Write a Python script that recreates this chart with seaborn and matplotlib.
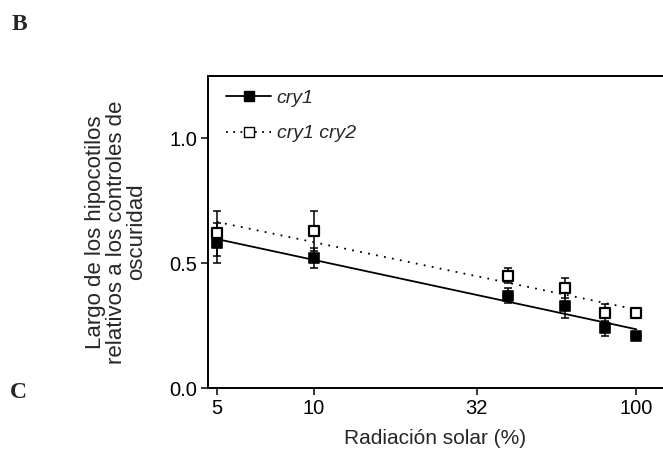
import numpy as np
import pandas as pd
import matplotlib
matplotlib.use("Agg")
import matplotlib.pyplot as plt
from matplotlib.lines import Line2D
import seaborn as sns

# ---- data ----
radiation = [5, 10, 40, 60, 80, 100]
cry1_mean = [0.58, 0.52, 0.37, 0.33, 0.24, 0.21]
cry1_err = [0.08, 0.04, 0.03, 0.05, 0.03, 0.015]
cry12_mean = [0.62, 0.63, 0.45, 0.40, 0.30, 0.30]
cry12_err = [0.09, 0.08, 0.03, 0.04, 0.035, 0.02]
x_ticks = [5, 10, 32, 100]
x_ticklabels = ["5", "10", "32", "100"]
y_ticks = [0.0, 0.5, 1.0]
y_ticklabels = ["0.0", "0.5", "1.0"]
series_names = ["cry1", "cry1 cry2"]

sns.set_style("ticks")
plt.rcParams["font.family"] = ["Liberation Sans", "DejaVu Sans"]

fig = plt.figure(figsize=(6.63, 4.55), dpi=100)
ax = fig.add_axes([208 / 663, 67 / 455, 455 / 663, 312 / 455])

df1 = pd.DataFrame({"x": radiation, "y": cry1_mean})
df2 = pd.DataFrame({"x": radiation, "y": cry12_mean})

# regression lines (y ~ log x)
sns.regplot(data=df1, x="x", y="y", logx=True, ci=None, scatter=False, ax=ax,
            line_kws=dict(color="black", lw=1.3, ls="-"))
sns.regplot(data=df2, x="x", y="y", logx=True, ci=None, scatter=False, ax=ax,
            line_kws=dict(color="black", lw=1.3, ls=(0, (1, 3.5))))

# error bars + markers
ax.errorbar(radiation, cry1_mean, yerr=cry1_err, fmt="none", ecolor="black",
            elinewidth=1.1, capsize=3, capthick=1.1, zorder=3)
ax.errorbar(radiation, cry12_mean, yerr=cry12_err, fmt="none", ecolor="black",
            elinewidth=1.1, capsize=3, capthick=1.1, zorder=3)
sns.scatterplot(data=df1, x="x", y="y", marker="s", s=55, color="black",
                edgecolor="black", linewidth=1.2, ax=ax, zorder=4)
sns.scatterplot(data=df2, x="x", y="y", marker="s", s=55, color="white",
                edgecolor="black", linewidth=1.6, ax=ax, zorder=5)

ax.set_xscale("log")
ax.set_xlim(4.69, 121)
ax.set_ylim(0.0, 1.25)
ax.set_xticks(x_ticks)
ax.set_xticklabels(x_ticklabels)
ax.minorticks_off()
ax.set_yticks(y_ticks)
ax.set_yticklabels(y_ticklabels)
ax.tick_params(axis="both", labelsize=14.5, direction="out", length=5, width=1.1,
               color="black", labelcolor="black", pad=3)

for side in ["left", "bottom", "top"]:
    ax.spines[side].set_visible(True)
    ax.spines[side].set_linewidth(1.4)
    ax.spines[side].set_color("black")
ax.spines["right"].set_visible(False)

ax.set_xlabel("Radiación solar (%)", fontsize=15, labelpad=8)
ax.set_ylabel("Largo de los hipocotilos\nrelativos a los controles de\noscuridad",
              fontsize=16, linespacing=0.95, labelpad=16)

handles = [
    Line2D([], [], color="black", lw=1.3, ls="-", marker="s", ms=7,
           markerfacecolor="black", markeredgecolor="black"),
    Line2D([], [], color="black", lw=1.3, ls=(0, (1, 3)), marker="s", ms=7,
           markerfacecolor="white", markeredgecolor="black"),
]
leg = ax.legend(handles, series_names, loc="upper left", frameon=False,
                fontsize=14, handlelength=2.3, handletextpad=0.3,
                labelspacing=0.9, borderaxespad=0.3,
                bbox_to_anchor=(0.01, 1.0))
for t in leg.get_texts():
    t.set_fontstyle("italic")

fig.text(12 / 663, 1 - 25 / 455, "B", fontsize=17, fontweight="bold",
         family="Liberation Serif", va="center", ha="left")
fig.text(10 / 663, 1 - 392 / 455, "C", fontsize=17, fontweight="bold",
         family="Liberation Serif", va="center", ha="left")

fig.savefig("out.png", dpi=100, facecolor="white")
